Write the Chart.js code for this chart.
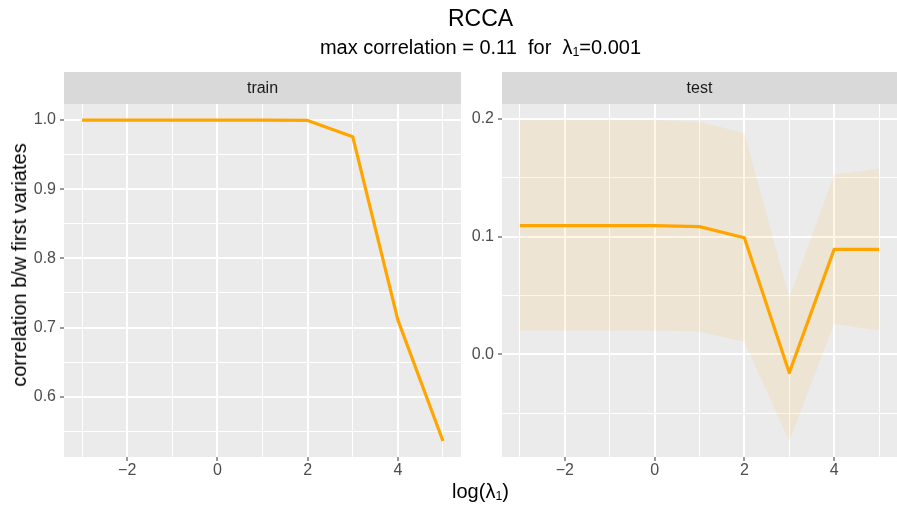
<!DOCTYPE html>
<html>
<head>
<meta charset="utf-8">
<script src="https://cdn.jsdelivr.net/npm/chart.js@4.4.1/dist/chart.umd.min.js"></script>
<style>
  body { margin: 0; background: #fff; }
  #wrap { position: relative; width: 897px; height: 506px; overflow: hidden; font-family: "Liberation Sans", Arial, sans-serif; }
  canvas { position: absolute; top: 0; }
  .txt { position: absolute; white-space: nowrap; color: #000; line-height: 1; }
  sub { font-size: 62%; vertical-align: -0.2em; line-height: 0; }
</style>
</head>
<body>
<div id="wrap">
  <canvas id="train_chart" width="470" height="506" style="left:0px"></canvas>
  <canvas id="test_chart" width="436" height="506" style="left:461px"></canvas>
  <div class="txt" style="left:64px; width:833px; top:7px; text-align:center; font-size:23px;">RCCA</div>
  <div class="txt" style="left:64px; width:833px; top:37px; text-align:center; font-size:20px;">max correlation = 0.11&nbsp; for&nbsp; λ<sub>1</sub>=0.001</div>
  <div class="txt" style="left:64px; width:833px; top:481px; text-align:center; font-size:20px;">log(λ<sub>1</sub>)</div>
  <div class="txt" style="left:19px; top:265px; font-size:20px; transform: translate(-50%, -50%) rotate(-90deg);">correlation b/w first variates</div>
</div>
<script>
// data
const logLambda = [-3, -2, -1, 0, 1, 2, 3, 4, 5];
const trainCor = [1.000, 1.000, 1.000, 1.000, 1.000, 0.9995, 0.976, 0.711, 0.536];
const testCor = [0.1094, 0.1094, 0.1094, 0.1094, 0.1085, 0.0991, -0.0156, 0.0892, 0.0892];
const testUpper = [0.1991, 0.1991, 0.1991, 0.1991, 0.1975, 0.188, 0.048, 0.1526, 0.158];
const testLower = [0.0202, 0.0202, 0.0202, 0.0202, 0.0194, 0.0108, -0.0736, 0.026, 0.0202];

const xTicks = [-3, -2, -1, 0, 1, 2, 3, 4, 5];
const xMajor = [-2, 0, 2, 4];
const trainTicks = [0.55, 0.6, 0.65, 0.7, 0.75, 0.8, 0.85, 0.9, 0.95, 1.0];
const trainMajor = [0.6, 0.7, 0.8, 0.9, 1.0];
const testTicks = [-0.05, 0.0, 0.05, 0.1, 0.15, 0.2];
const testMajor = [0.0, 0.1, 0.2];

const FONT = '"Liberation Sans", Arial, sans-serif';
const ORANGE = '#FFA500';

function pts(ys) {
    return logLambda.map((x, i) => ({x: x, y: ys[i]}))
}

function expand(lo, hi) {
    let d = (hi - lo) * 0.05
    return [lo - d, hi + d]
}

function isIn(v, list) {
    return list.some(m => Math.abs(m - v) < 1e-9)
}

const panelPlugin = {
    id: 'panel',
    beforeDraw(chart, args, opts) {
        let a = chart.chartArea
        let ctx = chart.ctx
        ctx.save()
        ctx.fillStyle = '#EBEBEB'
        ctx.fillRect(a.left, a.top, a.right - a.left, a.bottom - a.top)
        ctx.fillStyle = '#D9D9D9'
        ctx.fillRect(a.left, 72, a.right - a.left, a.top - 72)
        ctx.fillStyle = '#1A1A1A'
        ctx.font = '16px ' + FONT
        ctx.textAlign = 'center'
        ctx.textBaseline = 'middle'
        ctx.fillText(opts.label, (a.left + a.right) / 2, (72 + a.top) / 2 + 1)
        ctx.restore()
    }
}

function makeChart(elementId, label, datasets, yTicks, yMajor, yRange, yWidth, padRight) {
    return new Chart(document.getElementById(elementId), {
        type: 'line',
        data: {datasets: datasets},
        plugins: [panelPlugin],
        options: {
            responsive: false,
            animation: false,
            layout: {padding: {top: 104, right: padRight, bottom: 0, left: 0}},
            plugins: {
                legend: {display: false},
                tooltip: {enabled: false},
                panel: {label: label}
            },
            scales: {
                x: {
                    type: 'linear',
                    min: -3.4,
                    max: 5.4,
                    afterBuildTicks: s => { s.ticks = xTicks.map(v => ({value: v})) },
                    afterFit: s => { s.height = 49 },
                    border: {display: false},
                    grid: {
                        color: '#FFFFFF',
                        lineWidth: c => isIn(c.tick.value, xMajor) ? 2 : 1,
                        drawTicks: true,
                        tickLength: 4,
                        tickWidth: 1,
                        tickColor: c => isIn(c.tick.value, xMajor) ? '#333333' : 'rgba(0,0,0,0)'
                    },
                    ticks: {
                        autoSkip: false,
                        maxRotation: 0,
                        padding: 0,
                        color: '#4D4D4D',
                        font: {family: FONT, size: 16},
                        callback: v => isIn(v, xMajor) ? (v < 0 ? '\u2212' + Math.abs(v) : String(v)) : ''
                    }
                },
                y: {
                    type: 'linear',
                    min: yRange[0],
                    max: yRange[1],
                    afterBuildTicks: s => { s.ticks = yTicks.map(v => ({value: v})) },
                    afterFit: s => { s.width = yWidth },
                    border: {display: false},
                    grid: {
                        color: '#FFFFFF',
                        lineWidth: c => isIn(c.tick.value, yMajor) ? 2 : 1,
                        drawTicks: true,
                        tickLength: 4,
                        tickWidth: 1,
                        tickColor: c => isIn(c.tick.value, yMajor) ? '#333333' : 'rgba(0,0,0,0)'
                    },
                    ticks: {
                        autoSkip: false,
                        padding: 4,
                        color: '#4D4D4D',
                        font: {family: FONT, size: 16},
                        callback: v => isIn(v, yMajor) ? v.toFixed(1) : ''
                    }
                }
            }
        }
    })
}

let lineStyle = {
    borderColor: ORANGE,
    borderWidth: 3.2,
    pointRadius: 0,
    tension: 0,
    fill: false,
    borderJoinStyle: 'round'
}

makeChart('train_chart', 'train',
    [Object.assign({data: pts(trainCor)}, lineStyle)],
    trainTicks, trainMajor,
    expand(Math.min(...trainCor), Math.max(...trainCor)),
    64, 9)

makeChart('test_chart', 'test',
    [
        Object.assign({data: pts(testCor)}, lineStyle),
        {data: pts(testUpper), borderWidth: 0, borderColor: 'rgba(0,0,0,0)', pointRadius: 0, tension: 0,
         fill: '+1', backgroundColor: 'rgba(255,165,0,0.1)'},
        {data: pts(testLower), borderWidth: 0, borderColor: 'rgba(0,0,0,0)', pointRadius: 0, tension: 0,
         fill: false}
    ],
    testTicks, testMajor,
    expand(Math.min(...testLower), Math.max(...testUpper)),
    41, 0)
</script>
</body>
</html>
